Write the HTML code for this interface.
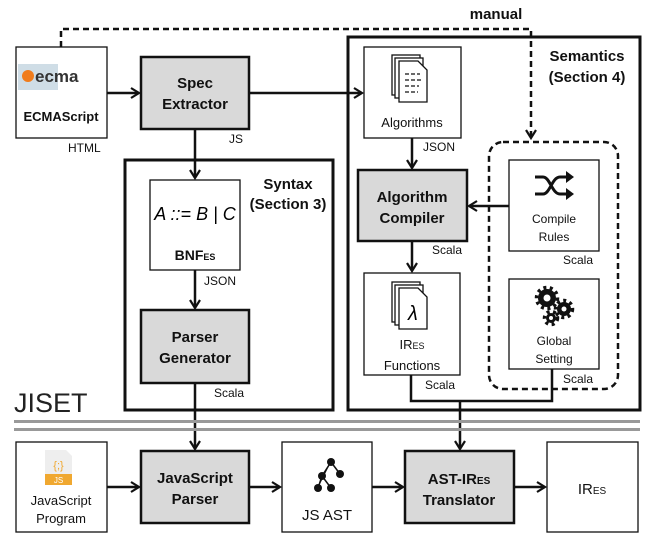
<!DOCTYPE html>
<html><head><style>
body{margin:0;background:#fff;width:658px;height:549px;overflow:hidden}
svg text{font-family:"Liberation Sans",Arial,sans-serif}
</style></head><body>
<svg width="658" height="549" viewBox="0 0 658 549" xmlns="http://www.w3.org/2000/svg">
<defs>
<marker id="a" markerWidth="12" markerHeight="12" refX="9" refY="6" orient="auto" markerUnits="userSpaceOnUse">
<path d="M1,1 L9,6 L1,11" fill="none" stroke="#111" stroke-width="2.2"/></marker>
</defs>
<g fill="none" stroke="#111">
<path d="M61,47 V29 H531 V138" stroke-width="2.5" stroke-dasharray="6,4" marker-end="url(#a)"/>
<rect x="125" y="160" width="208" height="250" stroke-width="3"/>
<rect x="348" y="37" width="292" height="373" stroke-width="3"/>
<rect x="489" y="142" width="129" height="247" rx="14" stroke-width="2.5" stroke-dasharray="6,4"/>
<rect x="16" y="47" width="91" height="91" fill="#fff" stroke-width="1.3"/>
<rect x="141" y="57" width="108" height="72" fill="#d9d9d9" stroke-width="2.5"/>
<rect x="150" y="180" width="90" height="90" fill="#fff" stroke-width="1.3"/>
<rect x="141" y="310" width="108" height="73" fill="#d9d9d9" stroke-width="2.5"/>
<rect x="364" y="47" width="97" height="91" fill="#fff" stroke-width="1.3"/>
<rect x="358" y="170" width="109" height="71" fill="#d9d9d9" stroke-width="2.5"/>
<rect x="364" y="273" width="96" height="102" fill="#fff" stroke-width="1.3"/>
<rect x="509" y="160" width="90" height="91" fill="#fff" stroke-width="1.3"/>
<rect x="509" y="279" width="90" height="90" fill="#fff" stroke-width="1.3"/>
<rect x="16" y="442" width="91" height="90" fill="#fff" stroke-width="1.3"/>
<rect x="141" y="451" width="108" height="72" fill="#d9d9d9" stroke-width="2.5"/>
<rect x="282" y="442" width="90" height="90" fill="#fff" stroke-width="1.3"/>
<rect x="405" y="451" width="109" height="72" fill="#d9d9d9" stroke-width="2.5"/>
<rect x="547" y="442" width="91" height="90" fill="#fff" stroke-width="1.3"/>
<g stroke-width="2.5">
<path d="M107,93 H139" marker-end="url(#a)"/>
<path d="M249,93 H362" marker-end="url(#a)"/>
<path d="M195,129 V178" marker-end="url(#a)"/>
<path d="M195,270 V308" marker-end="url(#a)"/>
<path d="M195,383 V449" marker-end="url(#a)"/>
<path d="M412,138 V168" marker-end="url(#a)"/>
<path d="M412,241 V271" marker-end="url(#a)"/>
<path d="M509,206 H469" marker-end="url(#a)"/>
<path d="M411,375 V401 H552 V369"/>
<path d="M460,401 V449" marker-end="url(#a)"/>
<path d="M107,487 H139" marker-end="url(#a)"/>
<path d="M249,487 H280" marker-end="url(#a)"/>
<path d="M372,487 H403" marker-end="url(#a)"/>
<path d="M514,487 H545" marker-end="url(#a)"/>
</g>
</g>
<rect x="14" y="420" width="626" height="3" fill="#999"/>
<rect x="14" y="428" width="626" height="3" fill="#999"/>
<rect x="18" y="64" width="40" height="26" fill="#cfdde6"/>
<circle cx="28" cy="76" r="6" fill="#f07c1c"/>
<text x="35" y="82" font-size="17" font-weight="bold" fill="#333">ecma</text>
<g fill="#fff" stroke="#111" stroke-width="1.3">
<rect x="392" y="55" width="28" height="40"/><rect x="395" y="58" width="28" height="40"/>
<path d="M399,61 H418 L427,70 V102 H399 Z"/>
<rect x="392" y="282" width="28" height="40"/><rect x="395" y="285" width="28" height="40"/>
<path d="M399,288 H418 L427,297 V329 H399 Z"/>
</g>
<g stroke="#111" stroke-width="1.3" stroke-dasharray="4,2"><path d="M405,74 H420 M405,80 H421 M405,86 H419 M405,92 H418"/></g>
<text x="408" y="320" font-size="20" font-family="Liberation Serif" font-style="italic">λ</text>
<g fill="none" stroke="#111" stroke-width="3"><path d="M535,177 H543 C550,177 552,194 560,194 H568 M535,194 H543 C550,194 552,177 560,177 H568"/></g>
<path d="M566,171 L574,177 L566,183 Z M566,188 L574,194 L566,200 Z" fill="#111"/>
<g fill="#111"><circle cx="547" cy="298" r="9"/><circle cx="564" cy="309" r="7"/><circle cx="551" cy="318" r="5"/></g>
<g fill="#fff"><circle cx="547" cy="298" r="3.5"/><circle cx="564" cy="309" r="2.5"/><circle cx="551" cy="318" r="2"/></g>
<g stroke="#111" stroke-width="3.5" stroke-dasharray="3,3.5"><circle cx="547" cy="298" r="10.5" fill="none"/><circle cx="564" cy="309" r="8.5" fill="none"/><circle cx="551" cy="318" r="6.5" fill="none"/></g>
<path d="M45,450 H66 L72,456 V485 H45 Z" fill="#eeeeee"/>
<rect x="45" y="474" width="27" height="11" fill="#f0a830"/>
<text x="58.5" y="483" font-size="8" fill="#fff" text-anchor="middle">JS</text>
<text x="58.5" y="469" font-size="11" fill="#f0a830" text-anchor="middle">{;}</text>
<g stroke="#111" stroke-width="1.5"><path d="M331,462 L322,476 L318,488 M322,476 L331,488 M331,462 L340,474"/></g>
<g fill="#111"><circle cx="331" cy="462" r="4"/><circle cx="322" cy="476" r="4"/><circle cx="340" cy="474" r="4"/><circle cx="318" cy="488" r="4"/><circle cx="331" cy="488" r="4"/></g>
<g font-size="15" font-weight="bold" text-anchor="middle" fill="#111">
<text x="195" y="88">Spec</text><text x="195" y="109">Extractor</text>
<text x="195" y="342">Parser</text><text x="195" y="363">Generator</text>
<text x="412" y="202">Algorithm</text><text x="412" y="223">Compiler</text>
<text x="195" y="483">JavaScript</text><text x="195" y="504">Parser</text>
<text x="459" y="484">AST-IR<tspan font-size="10">ES</tspan></text><text x="459" y="505">Translator</text>
<text x="496" y="19">manual</text>
<text x="288" y="189">Syntax</text><text x="288" y="209">(Section 3)</text>
<text x="587" y="61">Semantics</text><text x="587" y="82">(Section 4)</text>
</g>
<g font-size="13" text-anchor="middle" fill="#111">
<text x="61" y="121" font-weight="bold">ECMAScript</text>
<text x="412" y="127">Algorithms</text>
<text x="195" y="260" font-weight="bold" font-size="14">BNF<tspan font-size="9">ES</tspan></text>
<text x="412" y="349">IR<tspan font-size="9">ES</tspan></text>
<text x="412" y="370">Functions</text>
<text x="554" y="223" font-size="12">Compile</text><text x="554" y="241" font-size="12">Rules</text>
<text x="554" y="345" font-size="12">Global</text><text x="554" y="363" font-size="12">Setting</text>
<text x="61" y="505">JavaScript</text><text x="61" y="523">Program</text>
<text x="327" y="520" font-size="15">JS AST</text>
<text x="592" y="494" font-size="15">IR<tspan font-size="10">ES</tspan></text>
</g>
<g font-size="12" fill="#111">
<text x="68" y="152">HTML</text><text x="229" y="143">JS</text>
<text x="204" y="285">JSON</text><text x="214" y="397">Scala</text>
<text x="423" y="151">JSON</text><text x="432" y="254">Scala</text>
<text x="425" y="389">Scala</text><text x="563" y="264">Scala</text><text x="563" y="383">Scala</text>
</g>
<text x="195" y="220" font-size="18" font-family="Liberation Serif" font-style="italic" text-anchor="middle">A ::= B | C</text>
<text x="14" y="412" font-size="27" fill="#222">JISET</text>
</svg>
</body></html>
